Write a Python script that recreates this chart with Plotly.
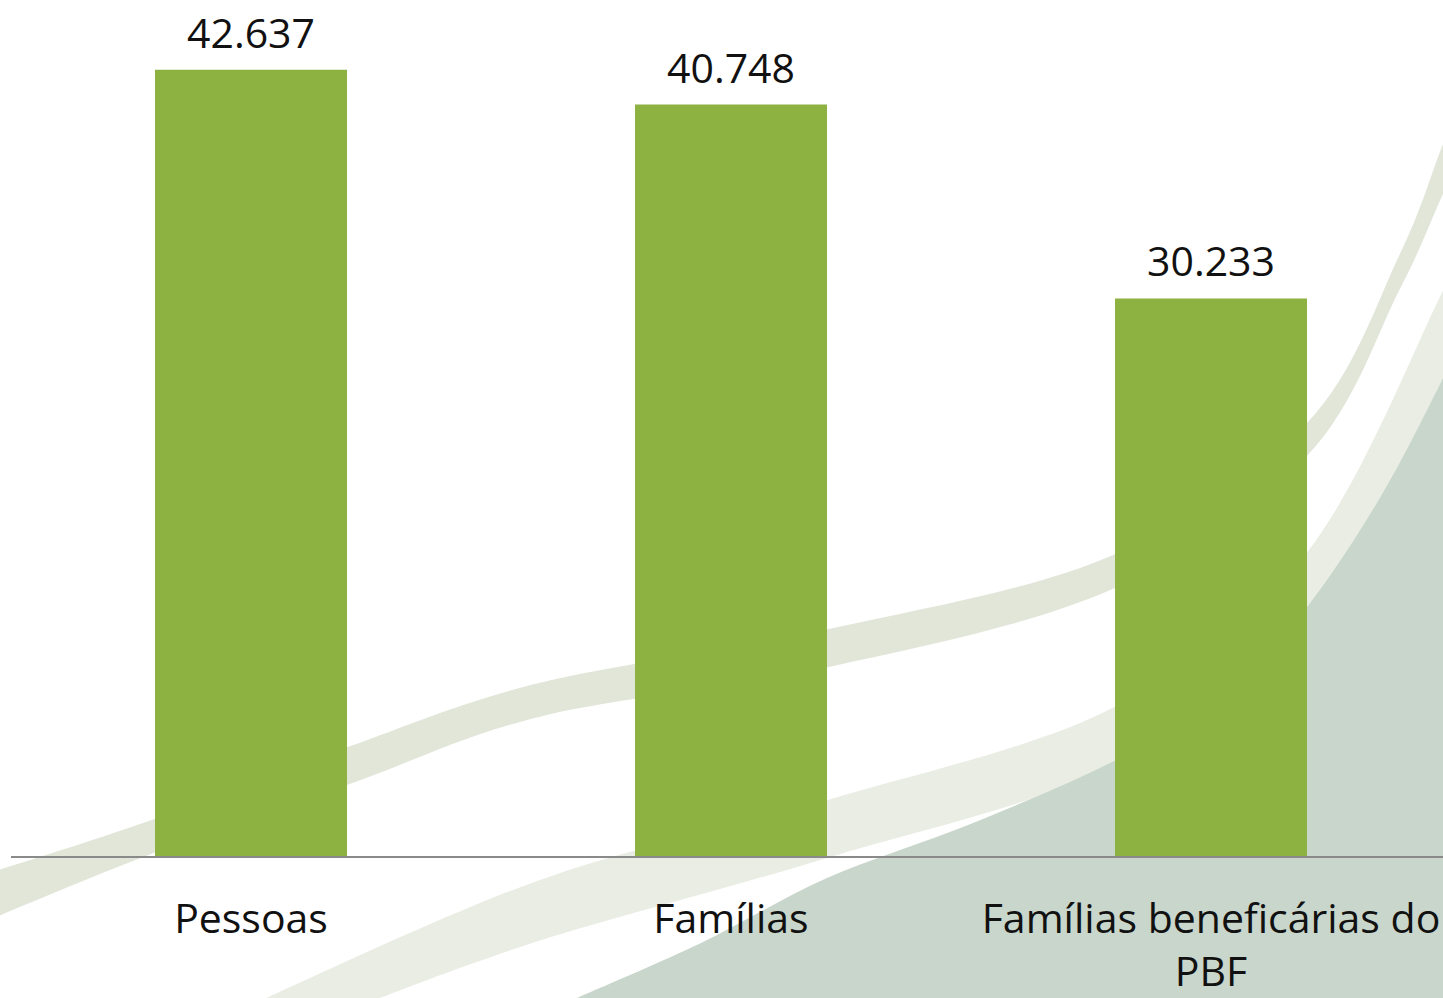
import plotly.graph_objects as go

# ---- data ----
categories = ["Pessoas", "Famílias", "Famílias beneficárias do<br>PBF"]
values = [42637, 40748, 30233]
value_labels = [f"{v:,}".replace(",", ".") for v in values]

# ---- page geometry (decoration helpers) ----
W, H = 1443, 998
ML, MR, MT, MB = 11, 0, 0, 138
PW, PH = W - ML - MR, H - MT - MB


def px(x):
    return (x - ML) / PW


def py(y):
    return (H - MB - y) / PH


def smooth_path(pts):
    """Catmull-Rom through pts (page pixels) -> SVG path in paper coords."""
    d = f"M{px(pts[0][0]):.5f},{py(pts[0][1]):.5f}"
    n = len(pts)
    for i in range(n - 1):
        p0 = pts[i - 1] if i > 0 else pts[i]
        p1 = pts[i]
        p2 = pts[i + 1]
        p3 = pts[i + 2] if i + 2 < n else pts[i + 1]
        c1 = (p1[0] + (p2[0] - p0[0]) / 6, p1[1] + (p2[1] - p0[1]) / 6)
        c2 = (p2[0] - (p3[0] - p1[0]) / 6, p2[1] - (p3[1] - p1[1]) / 6)
        d += (f" C{px(c1[0]):.5f},{py(c1[1]):.5f} {px(c2[0]):.5f},{py(c2[1]):.5f}"
              f" {px(p2[0]):.5f},{py(p2[1]):.5f}")
    return d


def band(upper, lower, color):
    d = smooth_path(upper)
    d2 = smooth_path(lower)
    d += " L" + d2[1:] + " Z"
    return dict(type="path", path=d, xref="paper", yref="paper",
                fillcolor=color, line=dict(width=0), layer="below")


shapes = []
# upper light band
shapes.append(band(
    [(-20, 880), (151, 824), (349, 750), (540, 686), (829, 632), (1112, 558),
     (1307, 425), (1400, 255), (1443, 145), (1470, 85)],
    [(1470, 140), (1443, 195), (1400, 290), (1307, 458), (1112, 592), (829, 670),
     (540, 720), (349, 788), (151, 858), (-20, 928)],
    "#e1e6d9"))
# lower faint band
shapes.append(band(
    [(250, 1010), (540, 884), (827, 804), (1115, 710), (1307, 555), (1443, 292), (1470, 232)],
    [(1470, 340), (1443, 385), (1307, 612), (1115, 768), (827, 862), (540, 945), (360, 1010)],
    "#eaede4"))
# grey-green region lower right
gp = [(560, 1010), (700, 948), (827, 882), (970, 828), (1115, 764), (1230, 695),
      (1307, 610), (1380, 500), (1443, 380), (1470, 320)]
d = smooth_path(gp)
d += f" L{px(1470):.5f},{py(1010):.5f} Z"
shapes.append(dict(type="path", path=d, xref="paper", yref="paper",
                   fillcolor="#c9d6cb", line=dict(width=0), layer="below"))

fig = go.Figure()
fig.add_trace(go.Bar(
    x=categories, y=values,
    marker=dict(color="#8db241", line=dict(width=0)),
    width=0.4,
    hoverinfo="x+y",
))

annotations = [
    dict(x=c, y=v, text=t, xref="x", yref="y", showarrow=False,
         yanchor="bottom", yshift=8,
         font=dict(family="Open Sans", size=41, color="#111111"))
    for c, v, t in zip(categories, values, value_labels)
]

fig.update_layout(
    width=W, height=H,
    margin=dict(l=ML, r=MR, t=MT, b=MB, pad=0),
    paper_bgcolor="#ffffff",
    plot_bgcolor="rgba(0,0,0,0)",
    showlegend=False,
    shapes=shapes,
    annotations=annotations,
    bargap=0.6,
    xaxis=dict(
        type="category",
        range=[-0.5, -0.5 + PW / 480],
        showgrid=False, zeroline=False,
        showline=True, linecolor="#8a8a8a", linewidth=1.5,
        ticks="", ticklabelstandoff=26,
        tickfont=dict(family="Open Sans", size=41, color="#111111"),
        fixedrange=True,
    ),
    yaxis=dict(
        range=[0, 46415],
        visible=False, showgrid=False, zeroline=False,
        fixedrange=True,
    ),
)

fig.write_html(
    "out.html",
    config={"displayModeBar": False},
    post_script="document.body.style.margin='0';document.body.style.overflow='hidden';",
)
